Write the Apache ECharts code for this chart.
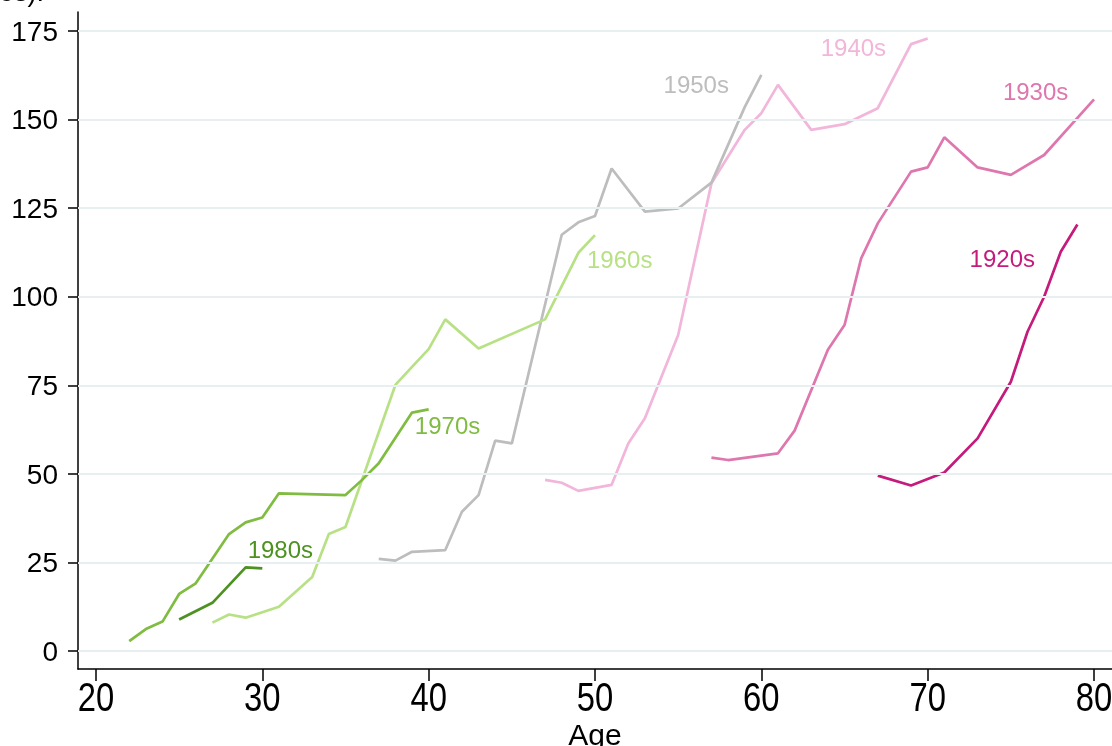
<!DOCTYPE html>
<html>
<head>
<meta charset="utf-8">
<script src="https://cdn.jsdelivr.net/npm/echarts@6/dist/echarts.min.js"></script>
<style>
  html, body { margin: 0; padding: 0; background: #fff; }
  #chart { width: 1112px; height: 746px; }
</style>
</head>
<body>
<div id="chart"></div>
<script>
// Cohort names and their [age, value] vertices
const cohorts = ['1920s', '1930s', '1940s', '1950s', '1960s', '1970s', '1980s'];

const c1920 = [[67, 49.5], [69, 46.7], [71, 50.4], [73, 60.0], [75, 76.0], [76, 90.1], [77, 100.0], [78, 112.7], [79, 120.4]];
const c1930 = [[57, 54.6], [58, 53.9], [61, 55.8], [62, 62.2], [64, 85.0], [65, 92.0], [66, 110.8], [67, 120.7], [69, 135.3], [70, 136.5], [71, 145.0], [73, 136.5], [75, 134.4], [77, 140.0], [80, 155.7]];
const c1940 = [[47, 48.3], [48, 47.5], [49, 45.2], [51, 46.9], [52, 58.6], [53, 65.7], [55, 89.2], [57, 132.0], [59, 147.1], [60, 151.8], [61, 159.8], [63, 147.1], [65, 148.7], [67, 153.2], [69, 171.3], [70, 172.9]];
const c1950 = [[37, 26.0], [38, 25.5], [39, 28.0], [41, 28.5], [42, 39.3], [43, 44.0], [44, 59.4], [45, 58.6], [48, 117.5], [49, 121.0], [50, 122.8], [51, 136.2], [53, 124.0], [55, 124.9], [57, 132.2], [59, 153.5], [60, 162.6]];
const c1960 = [[27, 8.0], [28, 10.3], [29, 9.4], [31, 12.5], [33, 20.9], [34, 33.0], [35, 35.0], [38, 75.1], [39, 80.2], [40, 85.2], [41, 93.6], [43, 85.4], [47, 93.6], [49, 112.4], [50, 117.4]];
const c1970 = [[22, 2.8], [23, 6.2], [24, 8.3], [25, 16.1], [26, 19.1], [28, 33.0], [29, 36.3], [30, 37.7], [31, 44.5], [35, 44.0], [36, 48.3], [37, 53.0], [39, 67.3], [40, 68.2]];
const c1980 = [[25, 8.9], [27, 13.6], [29, 23.6], [30, 23.3]];

const ageTicks = [20, 30, 40, 50, 60, 70, 80];
const valueTicks = [0, 25, 50, 75, 100, 125, 150, 175];

const seriesData = [c1920, c1930, c1940, c1950, c1960, c1970, c1980];
const colors = ['#c51b7d', '#de77ae', '#f1b6da', '#bdbdbd', '#b8e186', '#7fbc41', '#4d9221'];
// where each cohort's name is written, in axis units
const labelCoords = [[72.55, 110], [74.55, 157.2], [63.6, 169.8], [54.15, 159.2], [49.55, 109.7], [39.2, 63], [29.15, 28]];

const FONT = '"Liberation Sans", Arial, Helvetica, sans-serif';

const series = [{
  // horizontal reference lines at each labelled value
  type: 'line',
  data: [],
  silent: true,
  z: 1,
  markLine: {
    silent: true,
    symbol: ['none', 'none'],
    label: { show: false },
    lineStyle: { color: '#e7eff1', width: 2, type: 'solid' },
    data: valueTicks.map(v => ({ yAxis: v }))
  }
}];

cohorts.forEach((name, i) => {
  series.push({
    name: name,
    type: 'line',
    data: seriesData[i],
    symbol: 'none',
    smooth: false,
    z: 3,
    lineStyle: { color: colors[i], width: 2.7 },
    markPoint: {
      silent: true,
      symbol: 'circle',
      symbolSize: 1,
      itemStyle: { color: 'rgba(0,0,0,0)' },
      label: {
        show: true,
        formatter: name,
        position: [0, 0],
        align: 'left',
        verticalAlign: 'middle',
        color: colors[i],
        fontSize: 24,
        fontFamily: FONT
      },
      data: [{ coord: labelCoords[i] }]
    }
  });
});

const chart = echarts.init(document.getElementById('chart'), null, { renderer: 'canvas' });
chart.setOption({
  animation: false,
  backgroundColor: '#ffffff',
  textStyle: { fontFamily: FONT },
  grid: { left: 78, right: 0, top: 12, bottom: 77, containLabel: false, outerBoundsMode: 'none' },
  xAxis: {
    type: 'value',
    min: 18.92,
    max: 81.08,
    name: 'Age',
    nameLocation: 'middle',
    nameGap: 53,
    nameTextStyle: { color: '#000', fontSize: 30, fontFamily: FONT },
    axisLine: { show: true, onZero: false, lineStyle: { color: '#000', width: 1.5 } },
    axisTick: { show: true, length: 12, customValues: ageTicks, lineStyle: { color: '#000', width: 1.5 } },
    axisLabel: { show: false },
    splitLine: { show: false }
  },
  yAxis: {
    type: 'value',
    min: -5.08,
    max: 180.36,
    axisLine: { show: true, onZero: false, lineStyle: { color: '#000', width: 1.5 } },
    axisTick: { show: true, length: 10, customValues: valueTicks, lineStyle: { color: '#000', width: 1.5 } },
    axisLabel: { show: false },
    splitLine: { show: false }
  },
  series: series
});

// Tick labels placed at the positions the axes give for each tick value
const axisY = chart.convertToPixel({ yAxisIndex: 0 }, -5.08);
const axisX = chart.convertToPixel({ xAxisIndex: 0 }, 18.92);

const ageLabels = ageTicks.map(age => ({
  type: 'text',
  x: chart.convertToPixel({ xAxisIndex: 0 }, age),
  y: axisY + 31,
  scaleX: 0.8,
  silent: true,
  style: {
    text: String(age),
    fontSize: 41,
    fontFamily: FONT,
    fill: '#000',
    align: 'center',
    verticalAlign: 'middle'
  }
}));

const valueLabels = valueTicks.map(v => ({
  type: 'text',
  x: axisX - 20,
  y: chart.convertToPixel({ yAxisIndex: 0 }, v) + 2,
  silent: true,
  style: {
    text: String(v),
    fontSize: 28,
    fontFamily: FONT,
    fill: '#000',
    align: 'right',
    verticalAlign: 'middle'
  }
}));

chart.setOption({
  graphic: [{
    type: 'text',
    x: -1,
    y: -20,
    silent: true,
    style: { text: 'es):', fontSize: 27, fontFamily: FONT, fill: '#000' }
  }].concat(ageLabels, valueLabels)
});
</script>
</body>
</html>
